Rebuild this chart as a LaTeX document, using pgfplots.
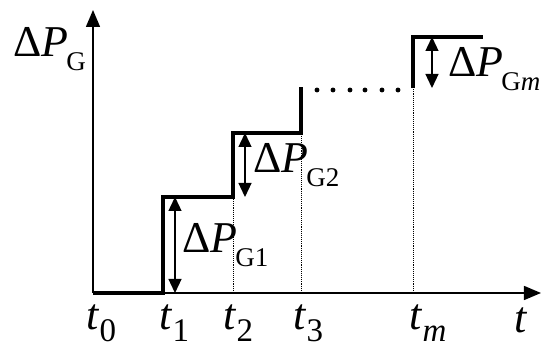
\documentclass[border=0pt]{standalone}
\usepackage{fontspec}
\setmainfont{Liberation Serif}
\usepackage{pgfplots}
\pgfplotsset{compat=1.18}
\usetikzlibrary{arrows.meta}

\newcommand\bigf{\fontsize{44}{44}\selectfont}
\newcommand\dP[1]{{\bigf Δ\textit{P}\kern-2pt\raisebox{-14pt}{\fontsize{27}{27}\selectfont #1}}}
\newcommand\tl[1]{{\bigf\textit{t}\rlap{\raisebox{-12pt}{\fontsize{33}{33}\selectfont #1}}}}

\tikzset{dbl/.style={line width=1.3pt, {Triangle[length=14pt,width=13pt]}-{Triangle[length=14pt,width=13pt]}}}

\begin{document}
\begin{tikzpicture}
\begin{axis}[
  x=1pt, y=1pt,
  xmin=0, xmax=448, ymin=0, ymax=283,
  axis x line=bottom, axis y line=left,
  axis line style={line width=1.5pt, -{Triangle[length=17pt,width=14pt]}},
  xtick=\empty, ytick=\empty,
  clip=false,
]
\path (axis cs:-93,293) rectangle (axis cs:457,-62);

% dotted guides
\addplot[line width=0.9pt, densely dotted] coordinates {(140,0) (140,96)};
\addplot[line width=0.9pt, densely dotted] coordinates {(208,0) (208,160)};
\addplot[line width=0.9pt, densely dotted] coordinates {(320,0) (320,206)};

% step profile
\addplot[line width=3.5pt, miter limit=4] coordinates {
  (0,0) (70,0) (70,96) (140,96) (140,160) (208,160) (208,206)};
\addplot[line width=3.5pt] coordinates {(320,205) (320,256) (390,256)};

% dots
\addplot[only marks, mark=*, mark size=2.2pt] coordinates {
  (224,203) (240,203) (257,203) (272,203) (289,203) (305,203)};

% increments
\addplot[dbl] coordinates {(82,0) (82,96)};
\addplot[dbl] coordinates {(152,96) (152,160)};
\addplot[dbl] coordinates {(339,205) (339,256)};

\node[anchor=base west, inner sep=0] at (axis cs:-80,236) {\dP{G}};
\node[anchor=base west, inner sep=0] at (axis cs:89,40) {\dP{G1}};
\node[anchor=base west, inner sep=0] at (axis cs:160,120) {\dP{G2}};
\node[anchor=base west, inner sep=0] at (axis cs:355,216) {\dP{G\textit{m}}};

\node[anchor=base, inner sep=0] at (axis cs:0,-37) {\tl{0}};
\node[anchor=base, inner sep=0] at (axis cs:73,-37) {\tl{1}};
\node[anchor=base, inner sep=0] at (axis cs:137,-37) {\tl{2}};
\node[anchor=base, inner sep=0] at (axis cs:207,-37) {\tl{3}};
\node[anchor=base, inner sep=0] at (axis cs:323,-37) {\tl{\textit{m}}};
\node[anchor=base, inner sep=0] at (axis cs:428,-40) {\bigf\textit{t}};
\end{axis}
\end{tikzpicture}
\end{document}
